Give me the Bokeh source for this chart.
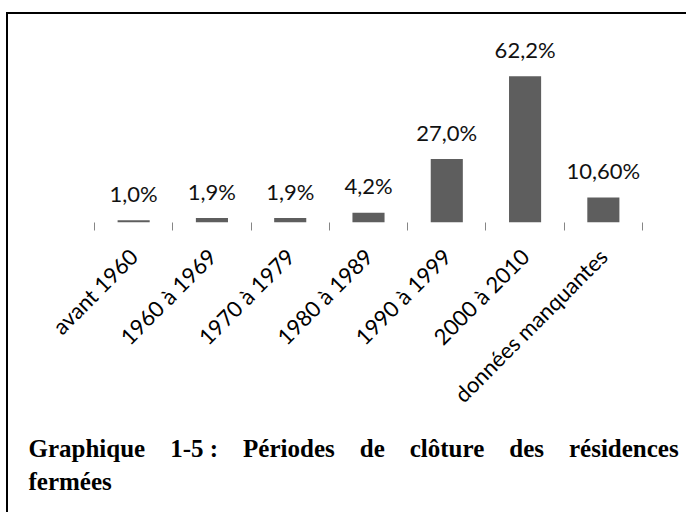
import math
from bokeh.plotting import figure
from bokeh.models import Range1d, FixedTicker, Title, ColumnDataSource
from bokeh.core.properties import value
from bokeh.embed import file_html
from bokeh.resources import INLINE

# ---- data ----
categories = ["avant 1960", "1960 à 1969", "1970 à 1979", "1980 à 1989",
              "1990 à 1999", "2000 à 2010", "données manquantes"]
values = [1.0, 1.9, 1.9, 4.2, 27.0, 62.2, 10.6]
value_labels = ["1,0%", "1,9%", "1,9%", "4,2%", "27,0%", "62,2%", "10,60%"]
caption_words = ["Graphique", "1-5\u00a0:", "Périodes", "de", "clôture", "des", "résidences"]
caption_line2 = "fermées"

idx = list(range(len(categories)))
bounds = [i - 0.5 for i in range(len(categories) + 1)]

src = ColumnDataSource(dict(x=idx, v=values, lab=value_labels))

p = figure(width=680, height=500, output_backend="svg", toolbar_location=None,
           x_range=Range1d(-0.5, len(categories) - 0.5), y_range=Range1d(0, 80),
           min_border_left=86, min_border_right=46, min_border_top=20,
           min_border_bottom=292)
p.styles = {"border-top": "2px solid #000", "border-left": "2px solid #000",
            "margin-top": "12px", "margin-left": "6px"}
p.outline_line_color = None
p.grid.visible = False
p.yaxis.visible = False
p.background_fill_color = "white"
p.border_fill_color = "white"

p.vbar(x="x", top="v", width=0.41, source=src, fill_color="#5e5e5e", line_color=None)
p.text(x="x", y="v", text="lab", source=src, y_offset=-27, text_align="center",
       text_baseline="alphabetic", text_font=value("Lato"), text_font_size="22px",
       text_color="#111111")

ax = p.xaxis[0]
ax.ticker = FixedTicker(ticks=idx, minor_ticks=bounds)
ax.major_label_overrides = {i: c for i, c in zip(idx, categories)}
ax.axis_line_color = None
ax.major_tick_line_color = None
ax.major_tick_out = 0
ax.major_tick_in = 0
ax.minor_tick_line_color = "#868686"
ax.minor_tick_line_width = 1
ax.minor_tick_out = 8
ax.minor_tick_in = 0
ax.major_label_orientation = math.pi / 4
ax.major_label_standoff = 22
ax.major_label_text_font = "Lato"
ax.major_label_text_font_size = "22px"
ax.major_label_text_color = "#000000"

# caption: first line spread to full width (justified look)
gap = "\u00a0" * 4
line1 = gap.join(caption_words)
for txt, so in [(line1, 24), (caption_line2, -15)]:
    p.add_layout(Title(text=txt, align="left", offset=-66, standoff=so,
                       text_font="Liberation Serif", text_font_style="bold",
                       text_font_size="25px", text_color="#000000"), "below")

open("out.html", "w").write(file_html(p, INLINE))
